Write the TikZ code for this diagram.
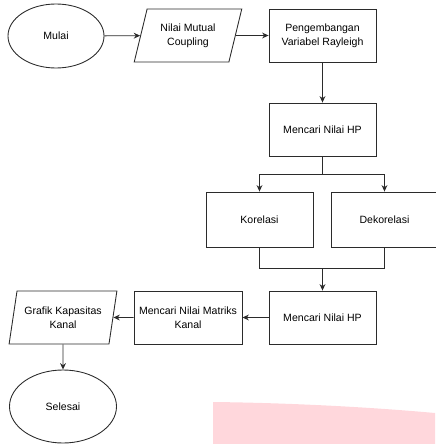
\documentclass[tikz,border=0pt]{standalone}
\usepackage{fontspec}
\setmainfont{Liberation Sans}
\usetikzlibrary{shapes.geometric,arrows.meta}
\definecolor{linegray}{HTML}{2B2B2B}
\definecolor{wmpink}{HTML}{FFD7DC}

\tikzset{
  box/.style={draw=linegray,line width=0.75pt,rectangle,align=center,
    minimum width=3.21cm,minimum height=1.59cm,inner sep=1pt},
  terminal/.style={draw=linegray,line width=0.75pt,ellipse,align=center,inner sep=0pt},
  iobox/.style={draw=linegray,line width=0.75pt,trapezium,trapezium stretches=true,
    align=center,minimum width=3.24cm,minimum height=1.59cm,inner sep=0pt},
  link/.style={draw=linegray,line width=0.75pt}
}

\begin{document}
\begin{tikzpicture}[x=0.03cm,y=-0.03cm,>={Stealth[length=5.5pt,width=5pt]},
  font=\fontsize{9}{12}\selectfont]
  \useasboundingbox (0,0) rectangle (435,444);
  \fill[wmpink] (213,402) .. controls (300,403) and (380,408) .. (435,413)
    -- (435,444) -- (213,444) -- cycle;

  \node[terminal,minimum width=2.88cm,minimum height=1.92cm] (mulai) at (56,36) {Mulai};
  \node[iobox,trapezium left angle=70,trapezium right angle=110] (mutual) at (188,35.5)
    {Nilai Mutual\\Coupling};
  \node[box] (kembang) at (322.5,35.5) {Pengembangan\\Variabel Rayleigh};
  \node[box] (hp1) at (322.5,129.5) {Mencari Nilai HP};
  \node[box,minimum height=1.65cm] (korelasi) at (259.5,219.5) {Korelasi};
  \node[box,minimum height=1.65cm] (dekorelasi) at (384.5,219.5) {Dekorelasi};
  \node[box,minimum height=1.59cm] (hp2) at (322.5,317.5) {Mencari Nilai HP};
  \node[box,minimum width=3.24cm] (matriks) at (188,317.5) {Mencari Nilai Matriks\\Kanal};
  \node[iobox,trapezium left angle=73,trapezium right angle=107] (grafik) at (63,317.5)
    {Grafik Kapasitas\\Kanal};
  \node[terminal,minimum width=3.21cm,minimum height=2.19cm] (selesai) at (63,406.5) {Selesai};

  \coordinate (split) at (322.5,174);
  \coordinate (merge) at (322.5,268);

  \draw[link,->] (mulai) -- (mutual);
  \draw[link,->] (mutual) -- (kembang);
  \draw[link,->] (kembang) -- (hp1);
  \draw[link] (hp1) -- (split);
  \draw[link,->] (split) -| (korelasi);
  \draw[link,->] (split) -| (dekorelasi);
  \draw[link] (korelasi) |- (merge);
  \draw[link] (dekorelasi) |- (merge);
  \draw[link,->] (merge) -- (hp2);
  \draw[link,->] (hp2) -- (matriks);
  \draw[link,->] (matriks) -- (grafik);
  \draw[link,->] (grafik) -- (selesai);
\end{tikzpicture}
\end{document}
